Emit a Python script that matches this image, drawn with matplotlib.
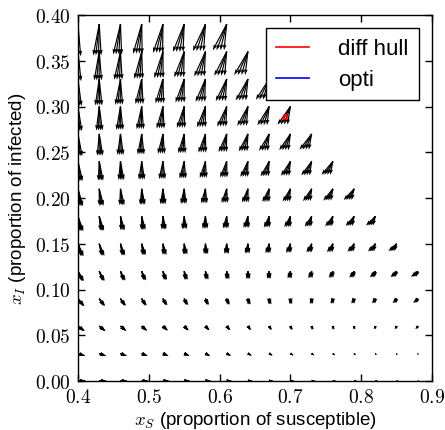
import matplotlib
matplotlib.use("Agg")
import matplotlib.pyplot as plt
import numpy as np

plt.rcParams["font.family"] = ["Liberation Sans", "DejaVu Sans"]
plt.rcParams["mathtext.fontset"] = "cm"

# --- Grid of states (x_S columns, x_I rows) ---
s_values = [0.40, 0.43, 0.46, 0.49, 0.52, 0.55, 0.58, 0.61, 0.64,
            0.67, 0.70, 0.73, 0.76, 0.79, 0.82, 0.85, 0.88]
i_values = [0.00, 0.03, 0.06, 0.09, 0.12, 0.15, 0.18,
            0.21, 0.24, 0.27, 0.30, 0.33, 0.36, 0.39]

# Arrow components, in units of 1e-3 (data units).
# ds_right: x_S step of the right-most arrow in each fan
# fan_width: how far the left-most arrow of the fan reaches further left
# di_step: x_I step (same for the whole fan)
ds_right = [
    [10.8, 10.3, 9.7, 9.2, 8.6, 8.1, 7.6, 7.0, 6.5, 5.9, 5.4, 4.9, 4.3, 3.8, 3.2, 2.7, 2.2],
    [10.3, 9.7, 9.1, 8.5, 7.9, 7.4, 6.8, 6.2, 5.6, 5.0, 4.5, 3.9, 3.3, 2.7, 2.1, 1.6, 1.0],
    [9.7, 9.1, 8.5, 7.9, 7.2, 6.6, 6.0, 5.4, 4.8, 4.1, 3.5, 2.9, 2.3, 1.7, 1.0, 0.4, -0.2],
    [9.2, 8.5, 7.9, 7.2, 6.5, 5.9, 5.2, 4.6, 3.9, 3.2, 2.6, 1.9, 1.2, 0.6, -0.1, -0.7, -1.4],
    [8.6, 7.9, 7.2, 6.5, 5.8, 5.1, 4.4, 3.7, 3.0, 2.3, 1.6, 0.9, 0.2, -0.5, -1.2, -1.9, -2.6],
    [8.1, 7.4, 6.6, 5.9, 5.1, 4.4, 3.6, 2.9, 2.2, 1.4, 0.7, -0.1, -0.8, -1.6, -2.3, -3.0],
    [7.6, 6.8, 6.0, 5.2, 4.4, 3.6, 2.9, 2.1, 1.3, 0.5, -0.3, -1.1, -1.8, -2.6, -3.4],
    [7.0, 6.2, 5.4, 4.6, 3.7, 2.9, 2.1, 1.3, 0.4, -0.4, -1.2, -2.0, -2.9, -3.7],
    [6.5, 5.6, 4.8, 3.9, 3.0, 2.2, 1.3, 0.4, -0.4, -1.3, -2.2, -3.0, -3.9],
    [5.9, 5.0, 4.1, 3.2, 2.3, 1.4, 0.5, -0.4, -1.3, -2.2, -3.1, -4.0],
    [5.4, 4.5, 3.5, 2.6, 1.6, 0.7, -0.3, -1.2, -2.2, -3.1, -4.1],
    [4.9, 3.9, 2.9, 1.9, 0.9, -0.1, -1.1, -2.0, -3.0, -4.0],
    [4.3, 3.3, 2.3, 1.2, 0.2, -0.8, -1.8, -2.9, -3.9],
    [3.8, 2.7, 1.6, 0.6, -0.5, -1.6, -2.6, -3.7],
]
fan_width = [
    [0.0] * 17,
    [0.8, 0.9, 0.9, 1.0, 1.0, 1.1, 1.2, 1.2, 1.3, 1.3, 1.4, 1.5, 1.5, 1.6, 1.6, 1.7, 1.8],
    [1.6, 1.7, 1.8, 2.0, 2.1, 2.2, 2.3, 2.5, 2.6, 2.7, 2.8, 2.9, 3.1, 3.2, 3.3, 3.4, 3.5],
    [2.4, 2.6, 2.8, 3.0, 3.1, 3.3, 3.5, 3.7, 3.9, 4.0, 4.2, 4.4, 4.6, 4.8, 4.9, 5.1, 5.3],
    [3.2, 3.5, 3.7, 3.9, 4.2, 4.4, 4.7, 4.9, 5.1, 5.4, 5.6, 5.9, 6.1, 6.4, 6.6, 6.8, 7.1],
    [4.0, 4.3, 4.6, 4.9, 5.2, 5.5, 5.8, 6.1, 6.4, 6.7, 7.0, 7.3, 7.6, 7.9, 8.2, 8.5],
    [4.8, 5.2, 5.5, 5.9, 6.3, 6.6, 7.0, 7.4, 7.7, 8.1, 8.4, 8.8, 9.2, 9.5, 9.9],
    [5.6, 6.1, 6.5, 6.9, 7.3, 7.7, 8.2, 8.6, 9.0, 9.4, 9.8, 10.3, 10.7, 11.1],
    [6.4, 6.9, 7.4, 7.9, 8.4, 8.8, 9.3, 9.8, 10.3, 10.8, 11.3, 11.7, 12.2],
    [7.2, 7.8, 8.3, 8.9, 9.4, 9.9, 10.5, 11.0, 11.6, 12.1, 12.7, 13.2],
    [8.0, 8.6, 9.2, 9.8, 10.5, 11.1, 11.7, 12.3, 12.9, 13.5, 14.1],
    [8.8, 9.5, 10.2, 10.8, 11.5, 12.2, 12.8, 13.5, 14.2, 14.8],
    [9.6, 10.4, 11.1, 11.8, 12.5, 13.3, 14.0, 14.7, 15.4],
    [10.5, 11.2, 12.0, 12.8, 13.6, 14.4, 15.2, 15.9],
]
di_step = [
    [0.0] * 17,
    [-2.7, -2.6, -2.6, -2.5, -2.4, -2.3, -2.3, -2.2, -2.1, -2.1, -2.0, -1.9, -1.8, -1.8, -1.7, -1.6, -1.5],
    [-5.4, -5.3, -5.1, -5.0, -4.8, -4.7, -4.5, -4.4, -4.2, -4.1, -4.0, -3.8, -3.7, -3.5, -3.4, -3.2, -3.1],
    [-8.1, -7.9, -7.7, -7.5, -7.2, -7.0, -6.8, -6.6, -6.4, -6.2, -5.9, -5.7, -5.5, -5.3, -5.1, -4.9, -4.6],
    [-10.8, -10.5, -10.2, -9.9, -9.6, -9.4, -9.1, -8.8, -8.5, -8.2, -7.9, -7.6, -7.3, -7.1, -6.8, -6.5, -6.2],
    [-13.5, -13.1, -12.8, -12.4, -12.1, -11.7, -11.3, -11.0, -10.6, -10.3, -9.9, -9.5, -9.2, -8.8, -8.5, -8.1],
    [-16.2, -15.8, -15.3, -14.9, -14.5, -14.0, -13.6, -13.2, -12.7, -12.3, -11.9, -11.4, -11.0, -10.6, -10.2],
    [-18.9, -18.4, -17.9, -17.4, -16.9, -16.4, -15.9, -15.4, -14.9, -14.4, -13.9, -13.4, -12.9, -12.3],
    [-21.6, -21.0, -20.4, -19.9, -19.3, -18.7, -18.1, -17.6, -17.0, -16.4, -15.8, -15.3, -14.7],
    [-24.3, -23.7, -23.0, -22.4, -21.7, -21.1, -20.4, -19.8, -19.1, -18.5, -17.8, -17.2],
    [-27.0, -26.3, -25.6, -24.8, -24.1, -23.4, -22.7, -22.0, -21.2, -20.5, -19.8],
    [-29.7, -28.9, -28.1, -27.3, -26.5, -25.7, -24.9, -24.2, -23.4, -22.6],
    [-32.4, -31.5, -30.7, -29.8, -28.9, -28.1, -27.2, -26.4, -25.5],
    [-35.1, -34.2, -33.2, -32.3, -31.4, -30.4, -29.5, -28.5],
]
# position of each arrow inside its fan (0 = right-most, 1 = left-most)
fan_levels = [0.0, 0.33, 0.67, 1.0]

# tiny "diff hull" trace and (invisible) "opti" point
hull_s = [0.6912, 0.6952, 0.6952, 0.6912, 0.6912]
hull_i = [0.2868, 0.2868, 0.2908, 0.2908, 0.2868]
opti_s = [0.693]
opti_i = [0.289]

xticks = [0.4, 0.5, 0.6, 0.7, 0.8, 0.9]
xtick_labels = [r"$0.4$", r"$0.5$", r"$0.6$", r"$0.7$", r"$0.8$", r"$0.9$"]
yticks = [0.0, 0.05, 0.10, 0.15, 0.20, 0.25, 0.30, 0.35, 0.40]
ytick_labels = [r"$0.00$", r"$0.05$", r"$0.10$", r"$0.15$", r"$0.20$",
                r"$0.25$", r"$0.30$", r"$0.35$", r"$0.40$"]

# --- flatten the ragged tables into quiver inputs ---
X, Y, U, V = [], [], [], []
for r, i_val in enumerate(i_values):
    for c in range(len(ds_right[r])):
        for f in fan_levels:
            X.append(s_values[c])
            Y.append(i_val)
            U.append((ds_right[r][c] - f * fan_width[r][c]) * 1e-3)
            V.append(di_step[r][c] * 1e-3)

fig = plt.figure(figsize=(4.45, 4.31), dpi=100)
ax = fig.add_axes([78 / 445, 49 / 431, 354 / 445, 366 / 431])

ax.quiver(X, Y, U, V, angles="xy", scale_units="xy", scale=1,
          color="k", width=0.0033, headwidth=3.2, headlength=4.8,
          headaxislength=4.3)
ax.plot(hull_s, hull_i, color="red", linewidth=1.2, label="diff hull")
ax.plot(opti_s, opti_i, color="blue", linewidth=1.2, label="opti")

ax.set_xlim(0.4, 0.9)
ax.set_ylim(0.0, 0.4)
ax.set_xticks(xticks)
ax.set_xticklabels(xtick_labels, fontsize=14)
ax.set_yticks(yticks)
ax.set_yticklabels(ytick_labels, fontsize=14)
ax.tick_params(direction="in", top=True, right=True, length=5, width=1, pad=5)
for sp in ax.spines.values():
    sp.set_linewidth(1.0)

ax.set_xlabel(r"$x_S$ (proportion of susceptible)", fontsize=13.5, labelpad=2)
ax.set_ylabel(r"$x_I$ (proportion of infected)", fontsize=13.5, labelpad=5)

leg = ax.legend(loc="upper right", fontsize=16, handlelength=1.5,
                fancybox=False, framealpha=1, edgecolor="k",
                borderpad=0.45, labelspacing=0.45, handletextpad=1.3,
                borderaxespad=0.6)
leg.get_frame().set_linewidth(1.0)

fig.savefig("out.png", dpi=100)
